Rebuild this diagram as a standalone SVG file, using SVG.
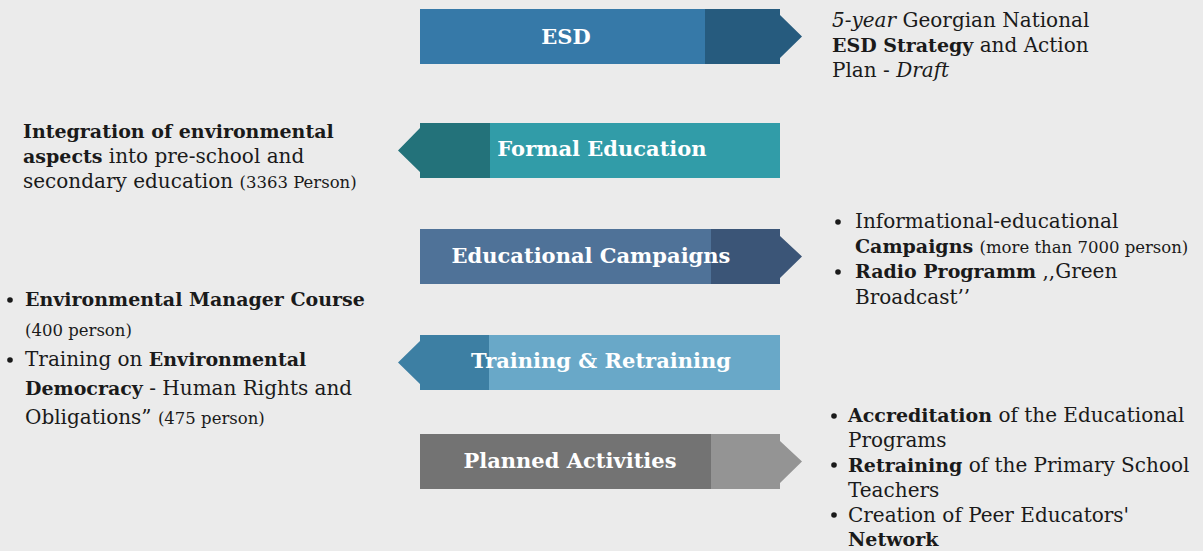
<svg xmlns="http://www.w3.org/2000/svg" width="1203" height="551" viewBox="0 0 1203 551">
<style>
.lbl{font-family:"DejaVu Serif","Liberation Serif",serif;font-weight:bold;font-size:21px;fill:#fff;text-anchor:middle}
.t{font-family:"DejaVu Serif","Liberation Serif",serif;font-size:20px;fill:#1a1a1a}
.b{font-weight:bold;font-size:19px}
.i{font-style:italic}
.s{font-size:16.5px}
</style>
<rect width="1203" height="551" fill="#ebebeb"/>
<g id="esd">
<rect x="420" y="9" width="285" height="55" fill="#3679a8"/>
<polygon points="705,9 780,9 780,15 802,36.5 780,58 780,64 705,64" fill="#265b7e"/>
<text class="lbl" x="566" y="44">ESD</text>
</g>
<g id="formal">
<rect x="490" y="123" width="290" height="55" fill="#319ca8"/>
<polygon points="490,123 420,123 420,128 398,150.5 420,172 420,178 490,178" fill="#23727a"/>
<text class="lbl" x="602" y="156">Formal Education</text>
</g>
<g id="campaigns">
<rect x="420" y="229" width="291" height="55" fill="#4f7298"/>
<polygon points="711,229 780,229 780,236 802,256.5 780,278 780,284 711,284" fill="#3b5577"/>
<text class="lbl" x="591" y="263">Educational Campaigns</text>
</g>
<g id="training">
<rect x="489" y="335" width="291" height="55" fill="#69a8c8"/>
<polygon points="489,335 420,335 420,341 398,362.5 420,384 420,390 489,390" fill="#3d7fa3"/>
<text class="lbl" x="601" y="368">Training &amp; Retraining</text>
</g>
<g id="planned">
<rect x="420" y="434" width="291" height="55" fill="#737373"/>
<polygon points="711,434 780,434 780,441 802,461.5 780,483 780,489 711,489" fill="#949494"/>
<text class="lbl" x="570" y="468">Planned Activities</text>
</g>
<g id="esd-text">
<text class="t" x="832" y="27"><tspan class="i">5-year</tspan> Georgian National</text>
<text class="t" x="832" y="52"><tspan class="b">ESD Strategy</tspan> and Action</text>
<text class="t" x="832" y="77">Plan - <tspan class="i">Draft</tspan></text>
</g>
<g id="formal-text">
<text class="t" x="23" y="138"><tspan class="b">Integration of environmental</tspan></text>
<text class="t" x="23" y="163"><tspan class="b">aspects</tspan> into pre-school and</text>
<text class="t" x="23" y="188">secondary education <tspan class="s">(3363 Person)</tspan></text>
</g>
<g id="campaigns-text">
<circle cx="838" cy="222" r="2.8" fill="#1a1a1a"/>
<text class="t" x="855" y="228">Informational-educational</text>
<text class="t" x="855" y="253"><tspan class="b">Campaigns</tspan> <tspan class="s">(more than 7000 person)</tspan></text>
<circle cx="838" cy="272" r="2.8" fill="#1a1a1a"/>
<text class="t" x="855" y="278"><tspan class="b">Radio Programm</tspan> ,,Green</text>
<text class="t" x="855" y="304">Broadcast’’</text>
</g>
<g id="training-text">
<circle cx="10" cy="300" r="2.8" fill="#1a1a1a"/>
<text class="t" x="25" y="306"><tspan class="b">Environmental Manager Course</tspan></text>
<text class="t s" x="25" y="336">(400 person)</text>
<circle cx="10" cy="360" r="2.8" fill="#1a1a1a"/>
<text class="t" x="25" y="366">Training on <tspan class="b">Environmental</tspan></text>
<text class="t" x="25" y="395"><tspan class="b">Democracy</tspan> - Human Rights and</text>
<text class="t" x="25" y="424">Obligations” <tspan class="s">(475 person)</tspan></text>
</g>
<g id="planned-text">
<circle cx="834" cy="416" r="2.8" fill="#1a1a1a"/>
<text class="t" x="848" y="422"><tspan class="b">Accreditation</tspan> of the Educational</text>
<text class="t" x="848" y="447">Programs</text>
<circle cx="834" cy="465" r="2.8" fill="#1a1a1a"/>
<text class="t" x="848" y="472"><tspan class="b">Retraining</tspan> of the Primary School</text>
<text class="t" x="848" y="497">Teachers</text>
<circle cx="834" cy="515" r="2.8" fill="#1a1a1a"/>
<text class="t" x="848" y="522">Creation of Peer Educators'</text>
<text class="t" x="848" y="546"><tspan class="b">Network</tspan></text>
</g>
<g id="connectors"></g>
</svg>
